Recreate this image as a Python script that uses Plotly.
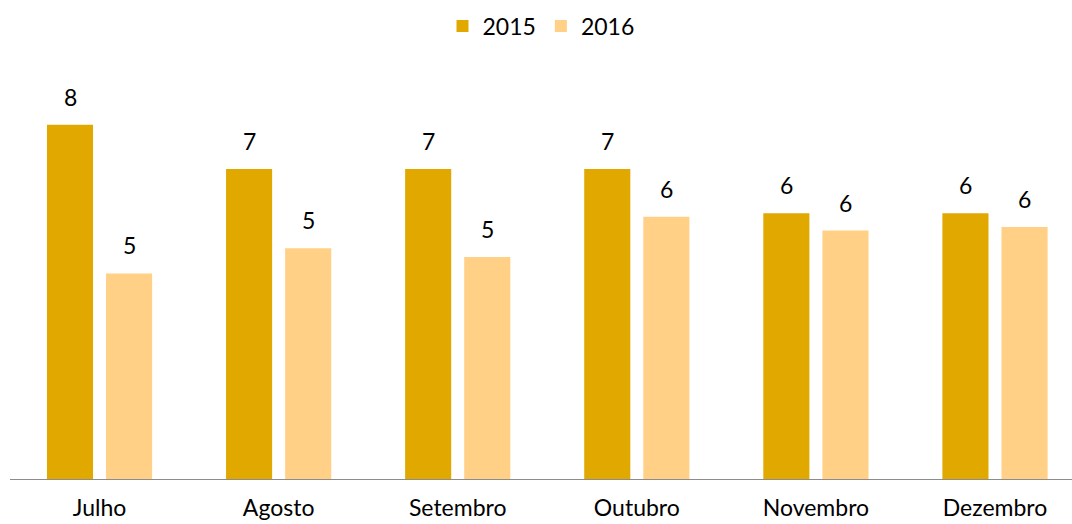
import plotly.graph_objects as go

months = ["Julho", "Agosto", "Setembro", "Outubro", "Novembro", "Dezembro"]
series_names = ["2015", "2016"]
values_2015 = [8.0, 7.0, 7.0, 7.0, 6.0, 6.0]
values_2016 = [4.64, 5.21, 5.01, 5.92, 5.61, 5.69]
colors = ["#E1A900", "#FFD086"]

fig = go.Figure()
for name, vals, col in zip(series_names, [values_2015, values_2016], colors):
    fig.add_trace(go.Bar(
        x=months, y=vals, name=name, marker=dict(color=col, line=dict(width=0)),
        hoverinfo="x+y",
    ))

# value labels above bars
for vals, shift in [(values_2015, -29.5), (values_2016, 29.5)]:
    for m, v in zip(months, vals):
        fig.add_annotation(
            x=m, y=v, text=f"{v:.0f}", showarrow=False,
            xshift=shift, yshift=28, font=dict(size=23, color="#000000"),
            xanchor="center", yanchor="middle",
        )

fig.update_layout(
    width=1072, height=524,
    margin=dict(l=10, r=0, t=60, b=45, autoexpand=False),
    paper_bgcolor="white", plot_bgcolor="white",
    barmode="group", bargap=0.34, bargroupgap=0.22,
    font=dict(family="Lato, 'Open Sans', sans-serif", size=23, color="#000000"),
    legend=dict(orientation="h", x=0.5, xanchor="center", y=1.081, yanchor="middle",
                font=dict(size=23), itemwidth=30, traceorder="normal"),
    showlegend=True,
)
fig.update_xaxes(
    range=[-0.5, 5.43], showline=True, linecolor="#8C8C8C", linewidth=1,
    showgrid=False, ticks="", tickfont=dict(size=23), ticklabelstandoff=8,
    automargin=False, fixedrange=True,
)
fig.update_yaxes(range=[0, 9.46], visible=False, showgrid=False, zeroline=False,
                 automargin=False, fixedrange=True)

fig.write_html(
    "out.html",
    config={"displayModeBar": False},
    post_script="document.body.style.margin='0';document.body.style.overflow='hidden';",
)
